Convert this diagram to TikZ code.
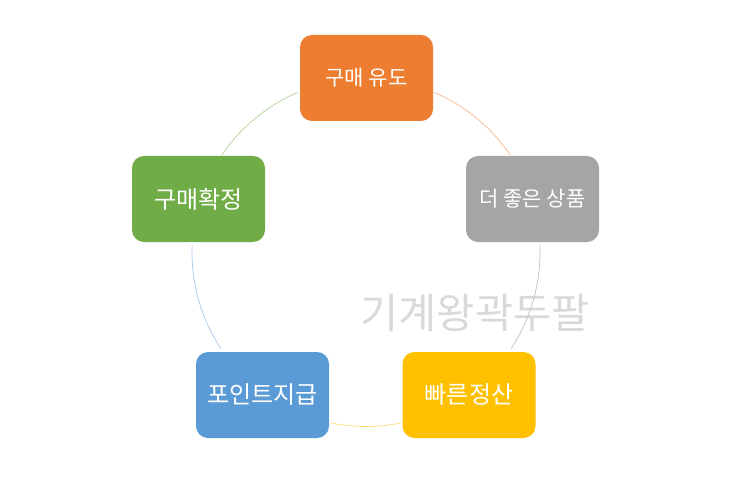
\documentclass[tikz,border=0pt]{standalone}
\usepackage{fontspec}
\setmainfont{Noto Sans CJK KR}
\begin{document}
\begin{tikzpicture}[x=1pt,y=1pt,
  box/.style={rounded corners=12pt, minimum width=133pt, minimum height=86pt, inner sep=0pt, text=white},
  small/.style={font=\fontsize{21}{23}\selectfont},
  big/.style={font=\fontsize{24}{26}\selectfont},
  lnk/.style={line width=0.7pt}]
\definecolor{corange}{HTML}{ED7D31}
\definecolor{cgray}{HTML}{A5A5A5}
\definecolor{cyellow}{HTML}{FFC000}
\definecolor{cblue}{HTML}{5B9BD5}
\definecolor{cgreen}{HTML}{70AD47}
\useasboundingbox (0,0) rectangle (743,485);
\coordinate (c) at (366,232.5);
\node[text=black!15, font=\fontsize{41.5}{44}\selectfont] (wm) at (475,172) {기계왕곽두팔};
\def\R{174}
\draw[lnk, corange!55] (c) ++(67:\R) arc (67:34:\R);
\draw[lnk, cgray!70] (c) ++(2.5:\R) arc (2.5:-33.5:\R);
\draw[lnk, cyellow!55] (c) ++(-78.3:\R) arc (-78.3:-101.7:\R);
\draw[lnk, cblue!55] (c) ++(213.6:\R) arc (213.6:177.6:\R);
\draw[lnk, cgreen!55] (c) ++(146:\R) arc (146:113:\R);
\node[box, fill=corange, small] (a) at (366.5,407) {구매 유도};
\node[box, fill=cgray, small] (b) at (532.5,286) {더 좋은 상품};
\node[box, fill=cyellow, big] (d) at (469,90) {빠른정산};
\node[box, fill=cblue, big] (e) at (262.5,90) {포인트지급};
\node[box, fill=cgreen, big] (f) at (198.5,286) {구매확정};
\end{tikzpicture}
\end{document}
